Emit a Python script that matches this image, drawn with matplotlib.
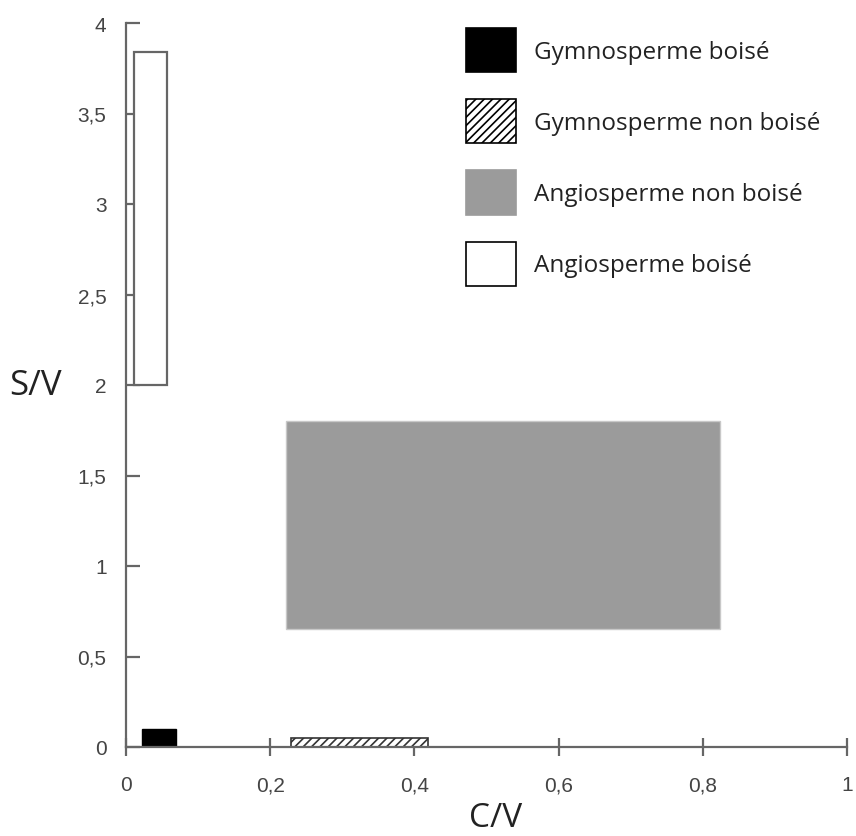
import matplotlib
matplotlib.use("Agg")
import matplotlib.pyplot as plt
from matplotlib.patches import Patch
import numpy as np

categories = ['Gymnosperme boisé', 'Gymnosperme non boisé',
              'Angiosperme non boisé', 'Angiosperme boisé']
cv_min = [0.022, 0.229, 0.222, 0.011]
cv_max = [0.069, 0.419, 0.824, 0.057]
sv_min = [0.0, 0.0, 0.65, 2.0]
sv_max = [0.10, 0.05, 1.80, 3.84]

x_ticks = [0, 0.2, 0.4, 0.6, 0.8, 1]
x_ticklabels = ['0', '0,2', '0,4', '0,6', '0,8', '1']
y_ticks = [0, 0.5, 1, 1.5, 2, 2.5, 3, 3.5, 4]
y_ticklabels = ['0', '0,5', '1', '1,5', '2', '2,5', '3', '3,5', '4']

facecolors = ['black', 'white', '#9b9b9b', 'white']
edgecolors = ['black', '#333333', '#c8c8c8', '#666666']
hatches = [None, '////', None, None]
linewidths = [1.0, 1.2, 1.0, 1.6]

plt.rcParams['hatch.linewidth'] = 1.2
plt.rcParams['hatch.color'] = '#222222'

fig = plt.figure(figsize=(8.56, 8.37), dpi=100)
ax = fig.add_axes([126/856, (837-748)/837, 721/856, 724/837])

for i in range(len(categories)):
    ax.bar(cv_min[i], sv_max[i] - sv_min[i], width=cv_max[i] - cv_min[i],
           bottom=sv_min[i], align='edge', color=facecolors[i],
           edgecolor=edgecolors[i], hatch=hatches[i], linewidth=linewidths[i],
           zorder=2)

ax.set_xlim(0, 1)
ax.set_ylim(0, 4)
for s in ['top', 'right']:
    ax.spines[s].set_visible(False)
for s in ['left', 'bottom']:
    ax.spines[s].set_color('#666666')
    ax.spines[s].set_linewidth(1.6)
    ax.spines[s].set_zorder(3)

ax.set_xticks(x_ticks)
ax.set_xticklabels(x_ticklabels)
ax.set_yticks(y_ticks)
ax.set_yticklabels(y_ticklabels)
ax.tick_params(axis='both', direction='in', length=10, width=1.6,
               color='#666666', labelcolor='#444444', labelsize=15)
ax.tick_params(axis='x', direction='inout', length=13)
ax.tick_params(axis='y', pad=14)
ax.tick_params(axis='x', pad=14)
for lab in ax.get_xticklabels() + ax.get_yticklabels():
    lab.set_family('Liberation Sans')

ax.set_ylabel('S/V', rotation=0, fontsize=25, family='Open Sans',
              color='#222222', va='center', ha='center')
ax.yaxis.set_label_coords(-0.126, 0.5)
ax.set_xlabel('C/V', fontsize=24, family='Open Sans', color='#222222',
              va='center', ha='center')
ax.xaxis.set_label_coords(0.512, -0.097)

handles = [Patch(facecolor=facecolors[i],
                 edgecolor='black' if i != 2 else '#9b9b9b',
                 hatch=hatches[i], linewidth=1.2, label=categories[i])
           for i in range(len(categories))]
leg = ax.legend(handles=handles, loc='upper left',
                bbox_to_anchor=((466-126)/721, (748-29)/724),
                frameon=False, prop={'family': 'Open Sans', 'size': 17.5},
                handlelength=2.06, handleheight=2.42, handletextpad=0.72,
                labelspacing=1.11, borderpad=0, borderaxespad=0)
for t in leg.get_texts():
    t.set_color('#222222')

fig.savefig('out.png', dpi=100)
